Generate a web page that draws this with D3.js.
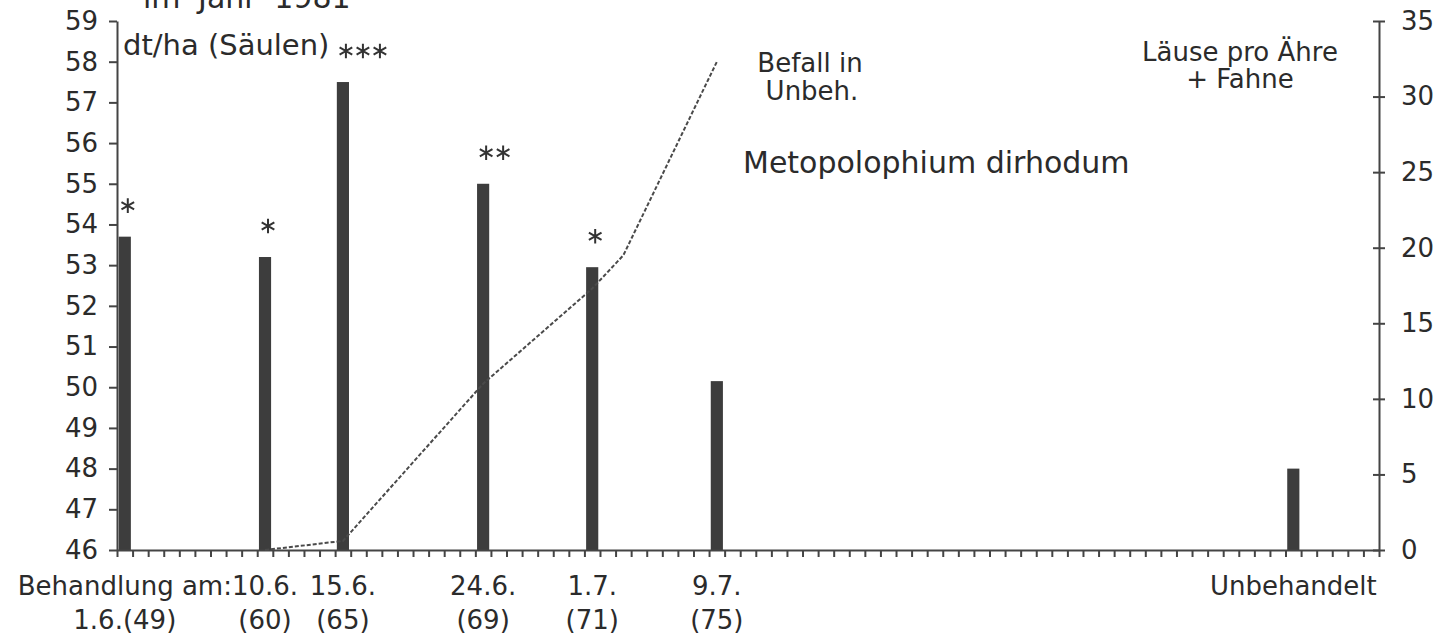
<!DOCTYPE html>
<html lang="de">

<head>
    <meta charset="UTF-8">
    <style type="text/css">
        body {
            margin: 0;
            background: #fff;
        }

        text {
            font-family: "DejaVu Sans", sans-serif;
            fill: #2b2b2b;
        }

        .axis path,
        .axis line {
            stroke: #444;
            stroke-width: 2px;
        }
    </style>
</head>

<body>
    <div id="chart"></div>
    <script src="https://cdn.jsdelivr.net/npm/d3@7/dist/d3.min.js"></script>
    <script type="text/javascript">

        // Behandlungstermine (Tag im Juni, 31 = 1.7.) und Ertrag in dt/ha
        var treatDays = [1, 10, 15, 24, 31, 39, 76];
        var dateLabels = ["", "10.6.", "15.6.", "24.6.", "1.7.", "9.7.", "Unbehandelt"];
        var stageLabels = ["1.6.(49)", "(60)", "(65)", "(69)", "(71)", "(75)", ""];
        var yieldValues = [53.7, 53.2, 57.5, 55.0, 52.95, 50.15, 48.0];
        var starCounts = [1, 1, 3, 2, 1, 0, 0];

        // Befall in Unbehandelt (Läuse pro Ähre + Fahne)
        var infestDays = [10, 15, 24, 31, 33, 39];
        var infestValues = [0, 0.6, 11.0, 17.3, 19.5, 32.3];

        var leftTicks = [46, 47, 48, 49, 50, 51, 52, 53, 54, 55, 56, 57, 58, 59];
        var rightTicks = [0, 5, 10, 15, 20, 25, 30, 35];

        var width = 1437,
            height = 641;

        var svg = d3.select("#chart")
            .append("svg")
            .attr("width", width)
            .attr("height", height);

        var x = d3.scaleLinear().domain([0.5, 81.5]).range([117, 1379]);
        var yLeft = d3.scaleLinear().domain([46, 59]).range([550, 21]);
        var yRight = d3.scaleLinear().domain([0, 35]).range([550, 21]);

        var barWidth = (x(1) - x(0)) * 0.78;

        // Säulen
        svg.selectAll(".bar")
            .data(yieldValues)
            .enter()
            .append("rect")
            .attr("class", "bar")
            .attr("x", function (d, i) { return x(treatDays[i]) - barWidth / 2; })
            .attr("y", function (d) { return yLeft(d); })
            .attr("width", barWidth)
            .attr("height", function (d) { return yLeft(46) - yLeft(d); })
            .style("fill", "#3d3d3d");

        // Signifikanzsterne
        var starData = [];
        yieldValues.forEach(function (v, i) {
            for (var k = 0; k < starCounts[i]; k++) {
                starData.push({ day: treatDays[i], value: v, k: k });
            }
        });

        svg.selectAll(".star")
            .data(starData)
            .enter()
            .append("path")
            .attr("class", "star")
            .attr("d", d3.symbol().type(d3.symbolAsterisk).size(150))
            .attr("transform", function (d) {
                return "translate(" + (x(d.day) + 3 + d.k * 17) + "," + (yLeft(d.value) - 31) + ")";
            })
            .style("fill", "none")
            .style("stroke", "#333")
            .style("stroke-width", 2);

        // Achsen
        svg.append("g")
            .attr("class", "axis")
            .attr("transform", "translate(0," + yLeft(46) + ")")
            .call(d3.axisBottom(x)
                .tickValues(d3.range(0.5, 82, 1))
                .tickSize(7)
                .tickSizeOuter(0)
                .tickFormat(""));

        var leftAxis = svg.append("g")
            .attr("class", "axis")
            .attr("transform", "translate(" + x(0.5) + ",0)")
            .call(d3.axisLeft(yLeft)
                .tickValues(leftTicks)
                .tickSize(8)
                .tickSizeOuter(0)
                .tickPadding(11));
        leftAxis.selectAll("text")
            .style("font-size", "26px")
            .style("fill", "#2b2b2b");

        var rightAxis = svg.append("g")
            .attr("class", "axis")
            .attr("transform", "translate(" + x(81.5) + ",0)")
            .call(d3.axisRight(yRight)
                .tickValues(rightTicks)
                .tickSize(6)
                .tickSizeOuter(0)
                .tickPadding(16));
        rightAxis.selectAll(".tick line").attr("x1", -6);
        rightAxis.selectAll("text")
            .style("font-size", "26px")
            .style("fill", "#2b2b2b");

        // Befall-Linie
        var line = d3.line()
            .x(function (d, i) { return x(infestDays[i]); })
            .y(function (d) { return yRight(d); });

        svg.append("path")
            .datum(infestValues)
            .attr("d", line)
            .style("fill", "none")
            .style("stroke", "#4a4a4a")
            .style("stroke-width", 2)
            .style("stroke-dasharray", "4,2");

        // Beschriftung unten
        svg.selectAll(".dateLabel")
            .data(dateLabels)
            .enter()
            .append("text")
            .attr("class", "dateLabel")
            .attr("x", function (d, i) { return x(treatDays[i]); })
            .attr("y", 595)
            .style("text-anchor", "middle")
            .style("font-size", "26px")
            .text(function (d) { return d; });

        svg.selectAll(".stageLabel")
            .data(stageLabels)
            .enter()
            .append("text")
            .attr("class", "stageLabel")
            .attr("x", function (d, i) { return x(treatDays[i]); })
            .attr("y", 629)
            .style("text-anchor", "middle")
            .style("font-size", "26px")
            .text(function (d) { return d; });

        var firstDate = svg.selectAll(".dateLabel").filter(function (d, i) { return i == 1; });
        svg.append("text")
            .attr("x", x(treatDays[1]) - firstDate.node().getComputedTextLength() / 2)
            .attr("y", 595)
            .style("text-anchor", "end")
            .style("font-size", "26px")
            .text("Behandlung am:");

        // sonstige Texte
        svg.append("text")
            .attr("x", 143)
            .attr("y", 8)
            .style("font-size", "30px")
            .style("word-spacing", "8px")
            .text("im Jahr 1981");

        svg.append("text")
            .attr("x", 123)
            .attr("y", 55)
            .style("font-size", "29px")
            .text("dt/ha (Säulen)");

        svg.append("text")
            .attr("x", 810)
            .attr("y", 72)
            .style("text-anchor", "middle")
            .style("font-size", "26px")
            .text("Befall in");

        svg.append("text")
            .attr("x", 812)
            .attr("y", 100)
            .style("text-anchor", "middle")
            .style("font-size", "26px")
            .text("Unbeh.");

        svg.append("text")
            .attr("x", 743)
            .attr("y", 173)
            .style("font-size", "30px")
            .text("Metopolophium dirhodum");

        svg.append("text")
            .attr("x", 1240)
            .attr("y", 61)
            .style("text-anchor", "middle")
            .style("font-size", "26px")
            .text("Läuse pro Ähre");

        svg.append("text")
            .attr("x", 1240)
            .attr("y", 88)
            .style("text-anchor", "middle")
            .style("font-size", "26px")
            .text("+ Fahne");
    </script>
</body>

</html>
